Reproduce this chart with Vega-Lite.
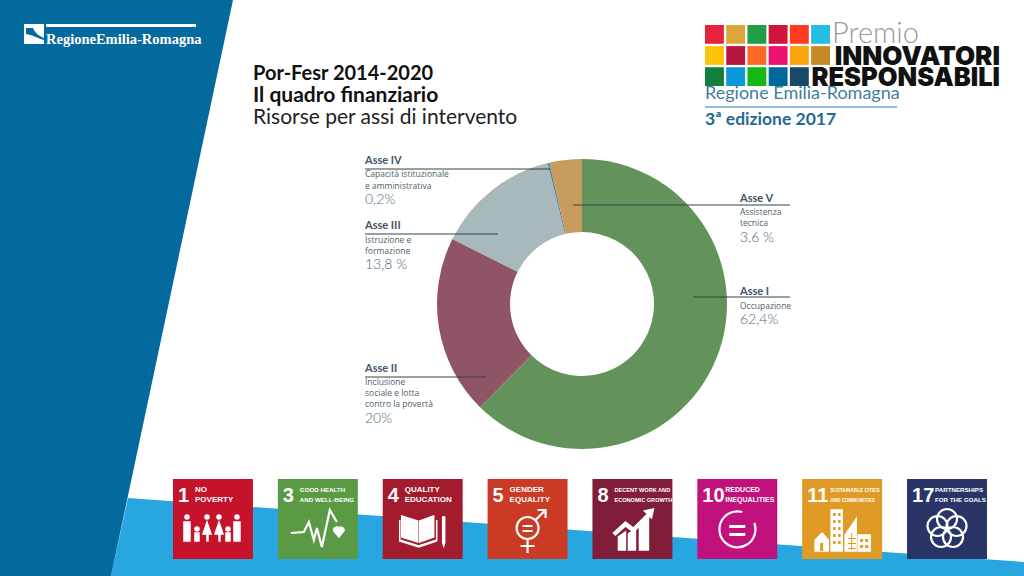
{"$schema":"https://vega.github.io/schema/vega-lite/v6.json","width":1024,"height":576,"autosize":{"type":"fit","contains":"padding"},"padding":0,"background":"white","config":{"view":{"stroke":null}},
"datasets":{"assi":[{"asse":"Asse I","quota":62.4,"descr":"Occupazione","pct":"62,4%"},{"asse":"Asse II","quota":20,"descr":"Inclusione\nsociale e lotta\ncontro la povertà","pct":"20%"},{"asse":"Asse III","quota":13.8,"descr":"Istruzione e\nformazione","pct":"13,8 %"},{"asse":"Asse IV","quota":0.2,"descr":"Capacità istituzionale\ne amministrativa","pct":"0,2%"},{"asse":"Asse V","quota":3.6,"descr":"Assistenza\ntecnica","pct":"3,6 %"}],
"sdg":[{"goal":"1","nome":"NO\nPOVERTY"},{"goal":"3","nome":"GOOD HEALTH\nAND WELL-BEING"},{"goal":"4","nome":"QUALITY\nEDUCATION"},{"goal":"5","nome":"GENDER\nEQUALITY"},{"goal":"8","nome":"DECENT WORK AND\nECONOMIC GROWTH"},{"goal":"10","nome":"REDUCED\nINEQUALITIES"},{"goal":"11","nome":"SUSTAINABLE CITIES\nAND COMMUNITIES"},{"goal":"17","nome":"PARTNERSHIPS\nFOR THE GOALS"}],
"logo":[{"id":"1","col":"a","riga":"r1"},{"id":"2","col":"b","riga":"r1"},{"id":"3","col":"c","riga":"r1"},{"id":"4","col":"d","riga":"r1"},{"id":"5","col":"e","riga":"r1"},{"id":"6","col":"f","riga":"r1"},{"id":"7","col":"a","riga":"r2"},{"id":"8","col":"b","riga":"r2"},{"id":"9","col":"c","riga":"r2"},{"id":"10","col":"d","riga":"r2"},{"id":"11","col":"e","riga":"r2"},{"id":"12","col":"f","riga":"r2"},{"id":"13","col":"a","riga":"r3"},{"id":"14","col":"b","riga":"r3"},{"id":"15","col":"c","riga":"r3"},{"id":"16","col":"d","riga":"r3"},{"id":"17","col":"e","riga":"r3"}]},
"data":{"name":"assi"},
"resolve":{"scale":{"x":"independent","y":"independent","color":"independent","shape":"independent","theta":"independent"}},
"layer":[
{"data":{"values":[{"k":1}]},"mark":{"type":"point","filled":true,"opacity":1,"fill":"#28A6DF","stroke":null,"shape":"M128,498 L1024,562 L1024,576 L111,576 Z"},"encoding":{"x":{"value":0},"y":{"value":0},"size":{"value":4}}},
{"data":{"values":[{"k":1}]},"mark":{"type":"point","filled":true,"opacity":1,"fill":"#04699C","stroke":null,"shape":"M0,0 L233,0 L111,576 L0,576 Z"},"encoding":{"x":{"value":0},"y":{"value":0},"size":{"value":4}}},
{"data":{"values":[{"k":1}]},"mark":{"type":"point","filled":true,"opacity":1,"fill":"white","stroke":null,"shape":"M24,24 H44 V44 H24 Z M46,24 H196 V27 H46 Z"},"encoding":{"x":{"value":0},"y":{"value":0},"size":{"value":4}}},
{"data":{"values":[{"k":1}]},"mark":{"type":"point","filled":true,"opacity":1,"fill":"#04699C","stroke":null,"shape":"M26,28 H33 C35,33 39,36 44,38 V40 C37,38 30,34 26,34 Z"},"encoding":{"x":{"value":0},"y":{"value":0},"size":{"value":4}}},
{"data":{"values":[{"t":"RegioneEmilia-Romagna"}]},"mark":{"type":"text","font":"Liberation Serif","fontWeight":"bold","fontSize":14.5,"fill":"white","align":"left","baseline":"alphabetic"},"encoding":{"x":{"value":46},"y":{"value":44},"text":{"field":"t"}}},
{"data":{"values":[{"t":"Por-Fesr 2014-2020"}]},"mark":{"type":"text","font":"Lato","fontWeight":"bold","fontSize":20,"fill":"#111","align":"left","baseline":"alphabetic"},"encoding":{"x":{"value":253},"y":{"value":80},"text":{"field":"t"}}},
{"data":{"values":[{"t":"Il quadro finanziario"}]},"mark":{"type":"text","font":"Lato","fontWeight":"bold","fontSize":21,"fill":"#111","align":"left","baseline":"alphabetic"},"encoding":{"x":{"value":253},"y":{"value":102},"text":{"field":"t"}}},
{"data":{"values":[{"t":"Risorse per assi di intervento"}]},"mark":{"type":"text","font":"Lato","fontSize":21,"fill":"#222","align":"left","baseline":"alphabetic"},"encoding":{"x":{"value":253},"y":{"value":124},"text":{"field":"t"}}},
{"data":{"name":"logo"},"mark":{"type":"rect"},"encoding":{"x":{"field":"col","type":"nominal","axis":null,"scale":{"type":"band","range":[705,830],"paddingInner":0.11,"paddingOuter":0}},"y":{"field":"riga","type":"nominal","axis":null,"scale":{"type":"band","range":[25,86],"paddingInner":0.11,"paddingOuter":0}},"color":{"field":"id","type":"nominal","legend":null,"scale":{"domain":["1","2","3","4","5","6","7","8","9","10","11","12","13","14","15","16","17"],"range":["#E5243B","#DDA63A","#1F9E45","#D3143A","#FF3A21","#26BDE2","#FCC30B","#B5173F","#FD6925","#EE1270","#FDA50F","#C58A26","#137F3F","#0A97D9","#14B814","#00689D","#19486A"]}}}},
{"data":{"values":[{"t":"Premio"}]},"mark":{"type":"text","font":"Lato","fontWeight":300,"fontSize":29,"fill":"#9a9a9a","align":"left","baseline":"alphabetic"},"encoding":{"x":{"value":832},"y":{"value":43},"text":{"field":"t"}}},
{"data":{"values":[{"t":"INNOVATORI"}]},"mark":{"type":"text","font":"Inter","fontWeight":900,"fontSize":26,"fill":"#111","align":"right","baseline":"alphabetic"},"encoding":{"x":{"value":1000},"y":{"value":65},"text":{"field":"t"}}},
{"data":{"values":[{"t":"RESPONSABILI"}]},"mark":{"type":"text","font":"Inter","fontWeight":900,"fontSize":25.5,"fill":"#111","align":"right","baseline":"alphabetic"},"encoding":{"x":{"value":1000},"y":{"value":86},"text":{"field":"t"}}},
{"data":{"values":[{"t":"Regione Emilia-Romagna"}]},"mark":{"type":"text","font":"Lato","fontSize":18,"fill":"#3E7FA0","align":"left","baseline":"alphabetic"},"encoding":{"x":{"value":705},"y":{"value":99},"text":{"field":"t"}}},
{"data":{"values":[{"k":1}]},"mark":{"type":"rule","stroke":"#6FA4C4","strokeWidth":1.5},"encoding":{"x":{"value":705},"x2":{"value":897},"y":{"value":107}}},
{"data":{"values":[{"t":"3ª edizione 2017"}]},"mark":{"type":"text","font":"Lato","fontWeight":"bold","fontSize":17.5,"fill":"#1F6A92","align":"left","baseline":"alphabetic"},"encoding":{"x":{"value":705},"y":{"value":125},"text":{"field":"t"}}},
{"mark":{"type":"arc","outerRadius":145,"innerRadius":72},"encoding":{"x":{"value":582},"y":{"value":304},"theta":{"field":"quota","type":"quantitative","stack":true},"order":{"field":"asse","type":"nominal"},"color":{"field":"asse","type":"nominal","legend":null,"scale":{"domain":["Asse I","Asse II","Asse III","Asse IV","Asse V"],"range":["#63935A","#8F5566","#A7B9BA","#5F7F96","#C89C5D"]}}}},
{"transform":[{"filter":"datum.asse==='Asse I'"}],"layer":[
{"mark":{"type":"rule","stroke":"#33443f","strokeWidth":1},"encoding":{"x":{"value":693},"x2":{"value":790},"y":{"value":297}}},
{"mark":{"type":"text","font":"Lato","fontWeight":"bold","fontSize":11,"fill":"#3d5566","align":"left","baseline":"alphabetic"},"encoding":{"x":{"value":740},"y":{"value":295},"text":{"field":"asse"}}},
{"mark":{"type":"text","font":"Open Sans","fontSize":8.5,"lineHeight":11.5,"lineBreak":"\n","fill":"#4d5f6a","align":"left","baseline":"alphabetic"},"encoding":{"x":{"value":740},"y":{"value":309},"text":{"field":"descr"}}},
{"mark":{"type":"text","font":"Lato","fontWeight":300,"fontSize":14,"fill":"#4a6a80","align":"left","baseline":"alphabetic"},"encoding":{"x":{"value":740},"y":{"value":324},"text":{"field":"pct"}}}]},
{"transform":[{"filter":"datum.asse==='Asse II'"}],"layer":[
{"mark":{"type":"rule","stroke":"#33443f","strokeWidth":1},"encoding":{"x":{"value":365},"x2":{"value":486},"y":{"value":377}}},
{"mark":{"type":"text","font":"Lato","fontWeight":"bold","fontSize":11,"fill":"#3d5566","align":"left","baseline":"alphabetic"},"encoding":{"x":{"value":365},"y":{"value":372},"text":{"field":"asse"}}},
{"mark":{"type":"text","font":"Open Sans","fontSize":8.5,"lineHeight":11,"lineBreak":"\n","fill":"#4d5f6a","align":"left","baseline":"alphabetic"},"encoding":{"x":{"value":365},"y":{"value":385},"text":{"field":"descr"}}},
{"mark":{"type":"text","font":"Lato","fontWeight":300,"fontSize":14,"fill":"#4a6a80","align":"left","baseline":"alphabetic"},"encoding":{"x":{"value":365},"y":{"value":423},"text":{"field":"pct"}}}]},
{"transform":[{"filter":"datum.asse==='Asse III'"}],"layer":[
{"mark":{"type":"rule","stroke":"#33443f","strokeWidth":1},"encoding":{"x":{"value":365},"x2":{"value":498},"y":{"value":234}}},
{"mark":{"type":"text","font":"Lato","fontWeight":"bold","fontSize":11,"fill":"#3d5566","align":"left","baseline":"alphabetic"},"encoding":{"x":{"value":365},"y":{"value":229},"text":{"field":"asse"}}},
{"mark":{"type":"text","font":"Open Sans","fontSize":8.5,"lineHeight":11,"lineBreak":"\n","fill":"#4d5f6a","align":"left","baseline":"alphabetic"},"encoding":{"x":{"value":365},"y":{"value":243},"text":{"field":"descr"}}},
{"mark":{"type":"text","font":"Lato","fontWeight":300,"fontSize":14,"fill":"#4a6a80","align":"left","baseline":"alphabetic"},"encoding":{"x":{"value":365},"y":{"value":269},"text":{"field":"pct"}}}]},
{"transform":[{"filter":"datum.asse==='Asse IV'"}],"layer":[
{"mark":{"type":"rule","stroke":"#33443f","strokeWidth":1},"encoding":{"x":{"value":365},"x2":{"value":550},"y":{"value":169}}},
{"mark":{"type":"text","font":"Lato","fontWeight":"bold","fontSize":11,"fill":"#3d5566","align":"left","baseline":"alphabetic"},"encoding":{"x":{"value":365},"y":{"value":164},"text":{"field":"asse"}}},
{"mark":{"type":"text","font":"Open Sans","fontSize":8.5,"lineHeight":12,"lineBreak":"\n","fill":"#4d5f6a","align":"left","baseline":"alphabetic"},"encoding":{"x":{"value":365},"y":{"value":177},"text":{"field":"descr"}}},
{"mark":{"type":"text","font":"Lato","fontWeight":300,"fontSize":14,"fill":"#4a6a80","align":"left","baseline":"alphabetic"},"encoding":{"x":{"value":365},"y":{"value":204},"text":{"field":"pct"}}}]},
{"transform":[{"filter":"datum.asse==='Asse V'"}],"layer":[
{"mark":{"type":"rule","stroke":"#33443f","strokeWidth":1},"encoding":{"x":{"value":573},"x2":{"value":790},"y":{"value":205}}},
{"mark":{"type":"text","font":"Lato","fontWeight":"bold","fontSize":11,"fill":"#3d5566","align":"left","baseline":"alphabetic"},"encoding":{"x":{"value":740},"y":{"value":202},"text":{"field":"asse"}}},
{"mark":{"type":"text","font":"Open Sans","fontSize":8.5,"lineHeight":11,"lineBreak":"\n","fill":"#4d5f6a","align":"left","baseline":"alphabetic"},"encoding":{"x":{"value":740},"y":{"value":215},"text":{"field":"descr"}}},
{"mark":{"type":"text","font":"Lato","fontWeight":300,"fontSize":14,"fill":"#4a6a80","align":"left","baseline":"alphabetic"},"encoding":{"x":{"value":740},"y":{"value":242},"text":{"field":"pct"}}}]},
{"data":{"name":"sdg"},"mark":{"type":"rect"},"encoding":{"x":{"field":"goal","type":"nominal","sort":null,"axis":null,"scale":{"type":"band","range":[173,987],"paddingInner":0.2374,"paddingOuter":0}},"y":{"value":479},"y2":{"value":559},"color":{"field":"goal","type":"nominal","sort":null,"legend":null,"scale":{"domain":["1","3","4","5","8","10","11","17"],"range":["#C5132B","#5B9A45","#A21C2E","#CB3A25","#801D39","#C1117D","#E09A26","#283566"]}}}},
{"data":{"name":"sdg"},"mark":{"type":"text","font":"Liberation Sans","fontWeight":"bold","fontSize":20,"fill":"white","align":"left","baseline":"alphabetic","dx":5},"encoding":{"x":{"field":"goal","type":"nominal","sort":null,"axis":null,"bandPosition":0,"scale":{"type":"band","range":[173,987],"paddingInner":0.2374,"paddingOuter":0}},"y":{"value":502},"text":{"field":"goal"}}},
{"data":{"name":"sdg"},"transform":[{"filter":"length(datum.goal)===1"}],"mark":{"type":"text","font":"Liberation Sans","fontWeight":"bold","lineHeight":9.5,"lineBreak":"\n","fill":"white","align":"left","baseline":"alphabetic","dx":22},"encoding":{"x":{"field":"goal","type":"nominal","axis":null,"bandPosition":0,"scale":{"type":"band","domain":["1","3","4","5","8","10","11","17"],"range":[173,987],"paddingInner":0.2374,"paddingOuter":0}},"y":{"value":492},"size":{"condition":[{"test":"datum.goal==='8'","value":5.6},{"test":"datum.goal==='3'","value":6.2}],"value":8},"text":{"field":"nome"}}},
{"data":{"name":"sdg"},"transform":[{"filter":"length(datum.goal)===2"}],"mark":{"type":"text","font":"Liberation Sans","fontWeight":"bold","lineHeight":9.5,"lineBreak":"\n","fill":"white","align":"left","baseline":"alphabetic","dx":28},"encoding":{"x":{"field":"goal","type":"nominal","axis":null,"bandPosition":0,"scale":{"type":"band","domain":["1","3","4","5","8","10","11","17"],"range":[173,987],"paddingInner":0.2374,"paddingOuter":0}},"y":{"value":492},"size":{"condition":[{"test":"datum.goal==='11'","value":4.7},{"test":"datum.goal==='17'","value":6.2}],"value":7},"text":{"field":"nome"}}},
{"data":{"name":"sdg"},"mark":{"type":"point","filled":true,"opacity":1,"fill":"white","stroke":"white","strokeWidth":1.5},"transform":[{"filter":"datum.goal==='1'||datum.goal==='3'||datum.goal==='4'||datum.goal==='8'||datum.goal==='11'"}],"encoding":{"x":{"field":"goal","type":"nominal","axis":null,"scale":{"type":"band","domain":["1","3","4","5","8","10","11","17"],"range":[173,987],"paddingInner":0.2374,"paddingOuter":0}},"y":{"value":529},"size":{"value":4},"shape":{"field":"goal","type":"nominal","legend":null,"scale":{"domain":["1","3","4","8","11"],"range":["M-28,-12 a2,2 0 1,0 4,0 a2,2 0 1,0 -4,0 M-29,-7 h6 v19 h-6 Z M-18,0 a2,2 0 1,0 4,0 a2,2 0 1,0 -4,0 M-18,4 h4 v8 h-4 Z M-8,-12 a2,2 0 1,0 4,0 a2,2 0 1,0 -4,0 M-6,-7 L-2,5 H-10 Z M-6,5 h1 v7 h-1 Z M4,-12 a2,2 0 1,0 4,0 a2,2 0 1,0 -4,0 M6,-7 L10,5 H2 Z M6,5 h1 v7 h-1 Z M13,0 a2,2 0 1,0 4,0 a2,2 0 1,0 -4,0 M13,4 h4 v8 h-4 Z M22,-12 a2,2 0 1,0 4,0 a2,2 0 1,0 -4,0 M21,-7 h6 v19 h-6 Z","M21,8 L16,2 A3,3 0 0 1 21,-1 A3,3 0 0 1 26,2 Z","M-21,-13 L-5,-8 V13 L-21,8 Z M11,-13 L-3,-8 V13 L11,8 Z M-23,-9 V11 L-4,17 L14,11 V-9 V12 L-4,18 L-23,12 Z M20,-12 h2 v26 l-1,3 l-1,-3 Z","M-14,21 V8 L-7,3 V21 Z M-4,21 V5 L3,0 V21 Z M7,21 V-6 L16,-11 V21 Z M-19,4 L-7,-7 L1,-1 L15,-15 L12,-18 L21,-20 L19,-11 L17,-13 L1,3 L-7,-3 L-17,6 Z","M-11,-19 H0 V22 H-11 Z M3,22 V6 L14,-10 V22 Z M16,6 H28 V22 H16 Z M-27,22 V11 L-20,4 L-14,11 V22 Z"]}}}},
{"data":{"name":"sdg"},"mark":{"type":"point","filled":true,"opacity":1,"fill":"#E09A26","stroke":null,"shape":"M-9,-16 h2.5 v3 h-2.5 Z M-4,-16 h2.5 v3 h-2.5 Z M-9,-9 h2.5 v3 h-2.5 Z M-4,-9 h2.5 v3 h-2.5 Z M-9,-2 h2.5 v3 h-2.5 Z M-4,-2 h2.5 v3 h-2.5 Z M-9,5 h2.5 v3 h-2.5 Z M-4,5 h2.5 v3 h-2.5 Z M-9,12 h2.5 v3 h-2.5 Z M-4,12 h2.5 v3 h-2.5 Z M6,9 h8 v1 h-8 Z M6,14 h8 v1 h-8 Z M6,19 h8 v1 h-8 Z M9,4 h1 v17 h-1 Z M18,10 h3 v3 h-3 Z M23,10 h3 v3 h-3 Z M18,16 h3 v3 h-3 Z M23,16 h3 v3 h-3 Z M-22,14 h3 v8 h-3 Z"},"transform":[{"filter":"datum.goal==='11'"}],"encoding":{"x":{"field":"goal","type":"nominal","axis":null,"scale":{"type":"band","domain":["1","3","4","5","8","10","11","17"],"range":[173,987],"paddingInner":0.2374,"paddingOuter":0}},"y":{"value":529},"size":{"value":4}}},
{"data":{"name":"sdg"},"mark":{"type":"point","filled":false,"opacity":1,"stroke":"white","strokeWidth":2.2},"transform":[{"filter":"datum.goal==='3'||datum.goal==='5'||datum.goal==='10'||datum.goal==='17'"}],"encoding":{"x":{"field":"goal","type":"nominal","axis":null,"scale":{"type":"band","domain":["1","3","4","5","8","10","11","17"],"range":[173,987],"paddingInner":0.2374,"paddingOuter":0}},"y":{"value":529},"size":{"value":4},"shape":{"field":"goal","type":"nominal","legend":null,"scale":{"domain":["3","5","10","17"],"range":["M-27,4 L-14,3 L-9,-7 L-4,11 L-1,-1 L4,18 L12,-19 L19,-7","M-11,-1 a11,11 0 1,0 22,0 a11,11 0 1,0 -22,0 M0,10 V24 M-7,17 H7 M8,-9 L18,-19 M10,-19 H18 V-11 M-5,-3 H5 M-5,2 H5","M5,-17 A18,18 0 1,0 17,-6 M-8,-3 H8 M-8,-2 H8 M-8,5 H8 M-8,6 H8","M-10,-10 a10,10 0 1,0 20,0 a10,10 0 1,0 -20,0 M-0.5,-3 a10,10 0 1,0 20,0 a10,10 0 1,0 -20,0 M-4,8 a10,10 0 1,0 20,0 a10,10 0 1,0 -20,0 M-16,8 a10,10 0 1,0 20,0 a10,10 0 1,0 -20,0 M-19.5,-3 a10,10 0 1,0 20,0 a10,10 0 1,0 -20,0"]}}}}
]}
